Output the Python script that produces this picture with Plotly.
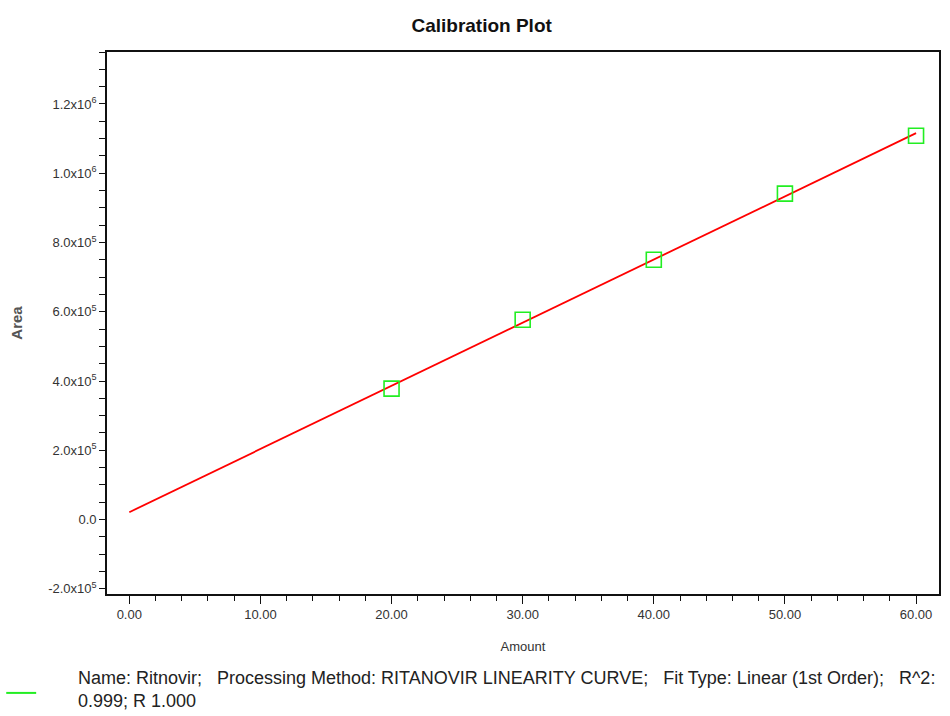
import numpy as np
import plotly.graph_objects as go

# Data
amount = [20, 30, 40, 50, 60]
area = [378000, 577000, 750000, 941000, 1108000]
fit_range = [0, 60]

y_tick_vals = [-200000, 0, 200000, 400000, 600000, 800000, 1000000, 1200000]
y_tick_text = ["-2.0x10<sup>5</sup>", "0.0", "2.0x10<sup>5</sup>", "4.0x10<sup>5</sup>",
               "6.0x10<sup>5</sup>", "8.0x10<sup>5</sup>", "1.0x10<sup>6</sup>", "1.2x10<sup>6</sup>"]
x_tick_vals = [0, 10, 20, 30, 40, 50, 60]
x_tick_text = ["0.00", "10.00", "20.00", "30.00", "40.00", "50.00", "60.00"]

legend_text = ("Name: Ritnovir;   Processing Method: RITANOVIR LINEARITY CURVE;   "
               "Fit Type: Linear (1st Order);   R^2:<br>0.999; R 1.000")

slope, intercept = np.polyfit(amount, area, 1)
fx = np.array(fit_range, dtype=float)
fy = slope * fx + intercept

NARROW = "Liberation Sans Narrow, Arial Narrow, Liberation Sans, Arial, sans-serif"

fig = go.Figure()
fig.add_trace(go.Scatter(x=fx, y=fy, mode="lines",
                         line=dict(color="#ff0000", width=1.8), showlegend=False))
fig.add_trace(go.Scatter(x=amount, y=area, mode="markers",
                         marker=dict(symbol="square-open", size=15,
                                     color="#22ee22", line=dict(width=1.6, color="#22ee22")),
                         showlegend=False))

fig.update_layout(
    width=950, height=716,
    margin=dict(l=107, r=9, t=52, b=122),
    paper_bgcolor="white", plot_bgcolor="white",
    title=dict(text="<b>Calibration Plot</b>", x=0.507, xanchor="center", y=0.965, yanchor="middle",
               font=dict(family=NARROW, size=19, color="#111")),
    font=dict(family=NARROW, color="#333"),
    xaxis=dict(range=[-1.7, 61.75], tickvals=x_tick_vals, ticktext=x_tick_text,
               ticks="outside", ticklen=8, tickwidth=1.2, tickcolor="#111",
               showline=True, linecolor="#111", linewidth=1.6, mirror=True,
               showgrid=False, zeroline=False,
               tickfont=dict(size=13, color="#333", family=NARROW),
               minor=dict(dtick=2, ticks="outside", ticklen=5, tickcolor="#111", tickwidth=1.2,
                          showgrid=False),
               title=dict(text="Amount", font=dict(size=13, color="#333", family=NARROW), standoff=20)),
    yaxis=dict(range=[-215000, 1350000], tickvals=y_tick_vals, ticktext=y_tick_text,
               ticks="outside", ticklen=6, tickwidth=1.2, tickcolor="#111",
               showline=True, linecolor="#111", linewidth=1.6, mirror=True,
               showgrid=False, zeroline=False,
               tickfont=dict(size=13, color="#333", family=NARROW),
               minor=dict(dtick=50000, tick0=0, ticks="outside", ticklen=6, tickcolor="#111",
                          tickwidth=1.2, showgrid=False),
               title=dict(text="<b>Area</b>", font=dict(size=15, color="#555", family=NARROW), standoff=22)),
)

fig.add_shape(type="line", xref="paper", yref="paper",
              x0=-101/834, x1=-71/834, y0=-99/542.5, y1=-99/542.5,
              line=dict(color="#22ee22", width=2))
fig.add_annotation(text=legend_text, xref="paper", yref="paper",
                   x=-31/834, y=-72/542.5, xanchor="left", yanchor="top", align="left",
                   showarrow=False, font=dict(family=NARROW, size=18, color="#222"))

fig.write_html("out.html")
